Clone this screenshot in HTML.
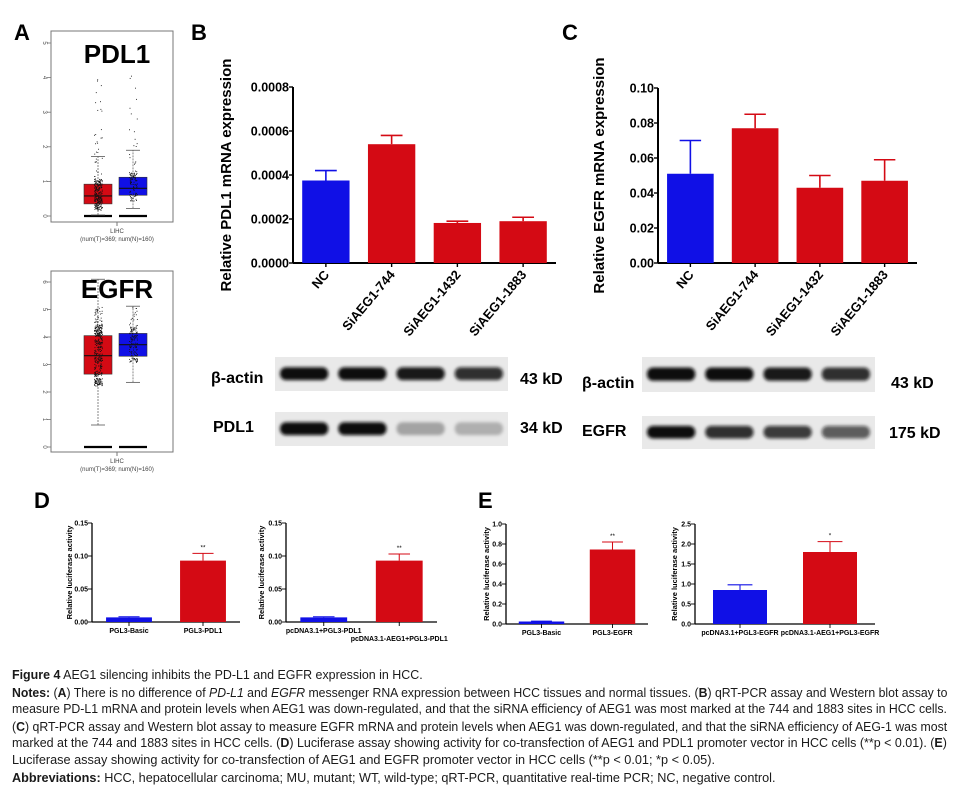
<!DOCTYPE html>
<html><head><meta charset="utf-8">
<style>
html,body{margin:0;padding:0;background:#fff;width:959px;height:795px;overflow:hidden;position:relative;font-family:"Liberation Sans",Arial,sans-serif}
svg text{font-family:"Liberation Sans",Arial,sans-serif}
.cap{position:absolute;left:12px;font-size:12.5px;color:#1a1a1a;white-space:nowrap;transform-origin:0 50%;line-height:16px}
</style></head><body>
<svg id="fig" width="959" height="650" style="position:absolute;left:0;top:0">
<defs><filter id="blur" x="-20%" y="-50%" width="140%" height="200%"><feGaussianBlur stdDeviation="1.6"/></filter></defs>
<g id="gA"></g><g id="gB"></g><g id="gC"></g><g id="gD"></g><g id="gE"></g>
</svg>
<div id="caption"></div>
<script>
// ---- Panel A box plot data ----
const aPdl1Tumor=[0.03,0.35,0.58,0.92,1.72];
const aPdl1Normal=[0.22,0.6,0.8,1.12,1.9];
const aEgfrTumor=[0.8,2.65,3.32,4.05,6.1];
const aEgfrNormal=[2.35,3.3,3.72,4.13,5.12];
const aPdl1Ticks=[0,1,2,3,4,5];
const aEgfrTicks=[0,1,2,3,4,5,6];
// ---- Panel B ----
const bCats=["NC","SiAEG1-744","SiAEG1-1432","SiAEG1-1883"];
const bVals=[0.000375,0.00054,0.000182,0.00019];
const bErrs=[0.000045,0.00004,0.000008,0.000018];
const bTicks=["0.0000","0.0002","0.0004","0.0006","0.0008"];
// ---- Panel C ----
const cCats=["NC","SiAEG1-744","SiAEG1-1432","SiAEG1-1883"];
const cVals=[0.051,0.077,0.043,0.047];
const cErrs=[0.019,0.008,0.007,0.012];
const cTicks=["0.00","0.02","0.04","0.06","0.08","0.10"];
// ---- Panel D ----
const d1Cats=["PGL3-Basic","PGL3-PDL1"];
const d1Vals=[0.007,0.093];
const d1Errs=[0.001,0.011];
const d2Cats=["pcDNA3.1+PGL3-PDL1","pcDNA3.1-AEG1+PGL3-PDL1"];
const d2Vals=[0.007,0.093];
const d2Errs=[0.001,0.010];
const dTicks=["0.00","0.05","0.10","0.15"];
// ---- Panel E ----
const e1Cats=["PGL3-Basic","PGL3-EGFR"];
const e1Vals=[0.025,0.745];
const e1Errs=[0.004,0.075];
const e1Ticks=["0.0","0.2","0.4","0.6","0.8","1.0"];
const e2Cats=["pcDNA3.1+PGL3-EGFR","pcDNA3.1-AEG1+PGL3-EGFR"];
const e2Vals=[0.85,1.8];
const e2Errs=[0.13,0.26];
const e2Ticks=["0.0","0.5","1.0","1.5","2.0","2.5"];

const NS="http://www.w3.org/2000/svg";
const RED="#d40a14",BLUE="#1010e6";
function mk(parent,tag,attrs,txt){const e=document.createElementNS(NS,tag);for(const k in attrs)e.setAttribute(k,attrs[k]);if(txt!==undefined)e.textContent=txt;parent.appendChild(e);return e;}

function barChart(g,o){
  const n=o.vals.length,max=+o.ticks[o.ticks.length-1];
  const y=v=>o.y0-(v/max)*(o.y0-o.y1);
  const band=(o.xEnd-o.x0)/n;
  const cx=i=>o.x0+band*(i+0.5);
  const ax=mk(g,'line',{x1:o.x0,y1:o.y1,x2:o.x0,y2:o.y0,stroke:'#000','stroke-width':o.sw});
  
  const bx=mk(g,'line',{x1:o.x0,y1:o.y0,x2:o.xEnd,y2:o.y0,stroke:'#000','stroke-width':o.sw});
  
  o.ticks.forEach(t=>{
    const yy=y(+t);
    mk(g,'line',{x1:o.x0-4,y1:yy,x2:o.x0,y2:yy,stroke:'#000','stroke-width':o.sw*0.7});
    const tl=mk(g,'text',{x:o.x0-4,y:yy+o.fs*0.35,'text-anchor':'end','font-size':o.fs,'font-weight':'bold'},t);
    
  });
  o.vals.forEach((v,i)=>{
    const c=cx(i),col=o.colors[i],bw=band*o.bwf;
    const ey=y(v+o.errs[i]);
    mk(g,'line',{x1:c,y1:y(v),x2:c,y2:ey,stroke:col,'stroke-width':o.sw*0.8});
    mk(g,'line',{x1:c-bw*0.23,y1:ey,x2:c+bw*0.23,y2:ey,stroke:col,'stroke-width':o.sw*0.8});
    const r=mk(g,'rect',{x:c-bw/2,y:y(v),width:bw,height:o.y0-y(v),fill:col});
    
    
    mk(g,'line',{x1:c,y1:o.y0,x2:c,y2:o.y0+4,stroke:'#000','stroke-width':o.sw*0.7});
    if(o.stars&&o.stars[i]){const s=mk(g,'text',{x:c,y:ey-4,'text-anchor':'middle','font-size':o.fs*0.9},o.stars[i]);
      }
    let lab;
    if(o.rot){lab=mk(g,'text',{x:c+4,y:o.y0+12,'text-anchor':'end','font-size':o.xfs,'font-weight':'bold',transform:`rotate(-50 ${c+4} ${o.y0+12})`},o.cats[i]);}
    else{const ly=o.y0+o.xfs+4+((o.stagger&&i==1)?o.xfs+1:0);
      lab=mk(g,'text',{x:c,y:ly,'text-anchor':'middle','font-size':o.xfs,'font-weight':'bold'},o.cats[i]);}
    
  });
  const ym=(o.y0+o.y1)/2;
  const t=mk(g,'text',{x:o.labX,y:ym,'text-anchor':'middle','font-size':o.lfs,'font-weight':'bold',transform:`rotate(-90 ${o.labX} ${ym})`},o.ylabel);
  
}

barChart(document.getElementById('gB'),{x0:293,xEnd:556,y0:263,y1:87,sw:2,fs:12.5,xfs:13,lfs:15,rot:true,bwf:0.72,
  cats:bCats,vals:bVals,errs:bErrs,ticks:bTicks,colors:[BLUE,RED,RED,RED],labX:231,ylabel:"Relative PDL1 mRNA expression"});
barChart(document.getElementById('gC'),{x0:658,xEnd:917,y0:263,y1:88,sw:2,fs:12.5,xfs:13,lfs:15,rot:true,bwf:0.72,
  cats:cCats,vals:cVals,errs:cErrs,ticks:cTicks,colors:[BLUE,RED,RED,RED],labX:604,ylabel:"Relative EGFR mRNA expression"});
barChart(document.getElementById('gD'),{x0:92,xEnd:240,y0:622,y1:523,sw:1.3,fs:7,xfs:7,lfs:7.5,rot:false,bwf:0.62,
  cats:d1Cats,vals:d1Vals,errs:d1Errs,ticks:dTicks,colors:[BLUE,RED],stars:["","**"],labX:72,ylabel:"Relative luciferase activity"});
barChart(document.getElementById('gD'),{x0:286,xEnd:437,y0:622,y1:523,sw:1.3,fs:7,xfs:7,lfs:7.5,rot:false,bwf:0.62,stagger:true,
  cats:d2Cats,vals:d2Vals,errs:d2Errs,ticks:dTicks,colors:[BLUE,RED],stars:["","**"],labX:264,ylabel:"Relative luciferase activity"});
barChart(document.getElementById('gE'),{x0:506,xEnd:648,y0:624,y1:524,sw:1.3,fs:7,xfs:7,lfs:7.5,rot:false,bwf:0.64,
  cats:e1Cats,vals:e1Vals,errs:e1Errs,ticks:e1Ticks,colors:[BLUE,RED],stars:["","**"],labX:489,ylabel:"Relative luciferase activity"});
barChart(document.getElementById('gE'),{x0:695,xEnd:875,y0:624,y1:524,sw:1.3,fs:7,xfs:7,lfs:7.5,rot:false,bwf:0.6,
  cats:e2Cats,vals:e2Vals,errs:e2Errs,ticks:e2Ticks,colors:[BLUE,RED],stars:["","*"],labX:677,ylabel:"Relative luciferase activity"});

// Panel labels
[["A",14,40],["B",191,40],["C",562,40],["D",34,508],["E",478,508]].forEach(p=>{
  const t=mk(document.getElementById('fig'),'text',{x:p[1],y:p[2],'font-size':22,'font-weight':'bold'},p[0]);
  
});

// Panel A boxplots
function boxPlot(g,o){
  const max=o.ticks[o.ticks.length-1];
  const y=v=>o.y0-(v/max)*(o.y0-o.y1);
  const fr=mk(g,'rect',{x:o.bx,y:o.by,width:122,height:o.bh,fill:'#fff',stroke:'#777','stroke-width':1});
  
  o.ticks.forEach(t=>{const yy=y(t);
    mk(g,'line',{x1:o.bx-4,y1:yy,x2:o.bx,y2:yy,stroke:'#777','stroke-width':0.8});
    mk(g,'text',{x:o.bx-8,y:yy,'text-anchor':'middle','font-size':6,fill:'#555',transform:`rotate(90 ${o.bx-8} ${yy})`},t);
  });
  // deterministic jitter for decorative sample dots
  let seed=o.seed;const rnd=()=>{seed=(seed*9301+49297)%233280;return seed/233280;};
  [[o.tumor,98,RED,o.nT],[o.normal,133,BLUE,o.nN]].forEach(([s,c,col,np])=>{
    mk(g,'line',{x1:c-14,y1:y(0),x2:c+14,y2:y(0),stroke:'#000','stroke-width':2.2});
    mk(g,'line',{x1:c,y1:y(s[0]),x2:c,y2:y(s[4]),stroke:'#555','stroke-width':0.7,'stroke-dasharray':'2,1'});
    mk(g,'line',{x1:c-7,y1:y(s[0]),x2:c+7,y2:y(s[0]),stroke:'#555','stroke-width':0.8});
    mk(g,'line',{x1:c-7,y1:y(s[4]),x2:c+7,y2:y(s[4]),stroke:'#555','stroke-width':0.8});
    const r=mk(g,'rect',{x:c-14,y:y(s[3]),width:28,height:y(s[1])-y(s[3]),fill:col,stroke:'#333','stroke-width':0.6});
    
    mk(g,'line',{x1:c-14,y1:y(s[2]),x2:c+14,y2:y(s[2]),stroke:'#111','stroke-width':1.2});
    for(let k=0;k<np;k++){const u=rnd(),w=rnd();
      const v=u<0.8? s[1]+(s[3]-s[1])*(w*1.6-0.3) : s[3]+(max*0.85-s[3])*w*w;
      const vv=Math.max(0.02,Math.min(max*0.98,v));
      mk(g,'rect',{x:c-4+rnd()*8,y:y(vv),width:0.9,height:0.9,fill:'#111'});}
  });
  const tt=mk(g,'text',{x:117,y:o.titleY,'text-anchor':'middle','font-size':26,'font-weight':'bold'},o.title);
  
  mk(g,'line',{x1:117,y1:o.by+o.bh,x2:117,y2:o.by+o.bh+4,stroke:'#777'});
  mk(g,'text',{x:117,y:o.by+o.bh+11,'text-anchor':'middle','font-size':6,fill:'#444'},"LIHC");
  mk(g,'text',{x:117,y:o.by+o.bh+19,'text-anchor':'middle','font-size':6,fill:'#444'},"(num(T)=369; num(N)=160)");
}
boxPlot(document.getElementById('gA'),{bx:51,by:31,bh:191,y0:216,y1:43,ticks:aPdl1Ticks,tumor:aPdl1Tumor,normal:aPdl1Normal,title:"PDL1",titleY:63,seed:7,nT:260,nN:110});
boxPlot(document.getElementById('gA'),{bx:51,by:271,bh:181,y0:447,y1:282,ticks:aEgfrTicks,tumor:aEgfrTumor,normal:aEgfrNormal,title:"EGFR",titleY:298,seed:3,nT:380,nN:140});

// Western blots
const blotBands={pdl1:[1,1,0.3,0.25],egfr:[1,0.85,0.8,0.65],actin:[1,1,0.95,0.85]};
function blot(x,yTop,w,h,ints,name){
  const g=mk(document.getElementById('fig'),'g',{});
  
  mk(g,'rect',{x:x,y:yTop,width:w,height:h,fill:'#e9e9e9'});
  const lw=w/4;
  ints.forEach((a,i)=>{mk(g,'rect',{x:x+lw*i+5,y:yTop+h*0.3,width:lw-10,height:h*0.38,rx:6,fill:'#111','fill-opacity':a,filter:'url(#blur)'});});
}
blot(275,357,233,34,blotBands.actin,'western-blot-beta-actin-b');
blot(275,412,233,34,blotBands.pdl1,'western-blot-pdl1');
blot(642,357,233,35,blotBands.actin,'western-blot-beta-actin-c');
blot(642,416,233,33,blotBands.egfr,'western-blot-egfr');
[["β-actin",211,383],["PDL1",213,432],["43 kD",520,384],["34 kD",520,433],["β-actin",582,388],["EGFR",582,436],["43 kD",891,388],["175 kD",889,438]].forEach(l=>{
  const t=mk(document.getElementById('fig'),'text',{x:l[1],y:l[2],'font-size':16,'font-weight':'bold'},l[0]);
  
});

// Caption
const capLines=[
 ['<b>Figure 4</b> AEG1 silencing inhibits the PD-L1 and EGFR expression in HCC.',411],
 ['<b>Notes:</b> (<b>A</b>) There is no difference of <i>PD-L1</i> and <i>EGFR</i> messenger RNA expression between HCC tissues and normal tissues. (<b>B</b>) qRT-PCR assay and Western blot assay to',935],
 ['measure PD-L1 mRNA and protein levels when AEG1 was down-regulated, and that the siRNA efficiency of AEG1 was most marked at the 744 and 1883 sites in HCC cells.',935],
 ['(<b>C</b>) qRT-PCR assay and Western blot assay to measure EGFR mRNA and protein levels when AEG1 was down-regulated, and that the siRNA efficiency of AEG-1 was most',935],
 ['marked at the 744 and 1883 sites in HCC cells. (<b>D</b>) Luciferase assay showing activity for co-transfection of AEG1 and PDL1 promoter vector in HCC cells (**p &lt; 0.01). (<b>E</b>)',935],
 ['Luciferase assay showing activity for co-transfection of AEG1 and EGFR promoter vector in HCC cells (**p &lt; 0.01; *p &lt; 0.05).',703],
 ['<b>Abbreviations:</b> HCC, hepatocellular carcinoma; MU, mutant; WT, wild-type; qRT-PCR, quantitative real-time PCR; NC, negative control.',764]
];
const capY=[667,685,701,719,735,752,770];
const cap=document.getElementById('caption');
capLines.forEach((l,i)=>{
  const d=document.createElement('div');
  d.className='cap';d.style.top=capY[i]+'px';d.innerHTML=l[0];
  
  
  cap.appendChild(d);
  const w=d.scrollWidth;d.style.transform=`scaleX(${l[1]/w})`;
});
</script>
</body></html>
